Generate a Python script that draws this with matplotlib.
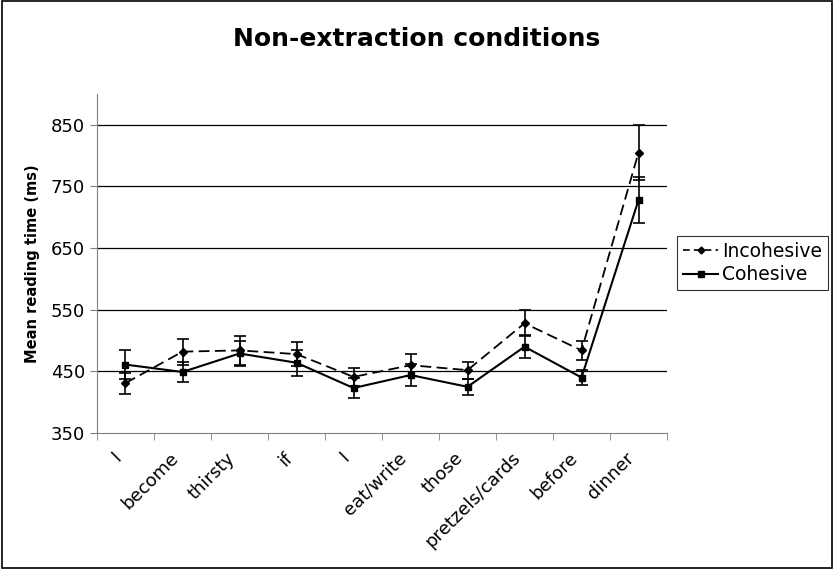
import numpy as np
import matplotlib
matplotlib.use('Agg')
import matplotlib.pyplot as plt
import matplotlib.transforms as mtransforms
from matplotlib.patches import Rectangle
from matplotlib.lines import Line2D

words      = ['I', 'become', 'thirsty', 'if', 'I', 'eat/write', 'those', 'pretzels/cards', 'before', 'dinner']
incohesive = [431, 482, 484, 478, 441, 460, 452, 528, 484, 805]
inc_err    = [17, 21, 23, 19, 14, 18, 14, 21, 16, 45]
cohesive   = [461, 449, 479, 464, 423, 444, 425, 490, 440, 728]
coh_err    = [23, 17, 20, 21, 17, 18, 13, 19, 12, 38]

plt.rcParams['font.family'] = 'DejaVu Sans'

fig = plt.figure(figsize=(8.34, 5.69), dpi=100)
ax = fig.add_axes([0.1163, 0.239, 0.6835, 0.5958])

x = np.arange(len(words))
inc_ls = (0, (6, 3))
ax.errorbar(x, incohesive, yerr=inc_err, color='black', linestyle=inc_ls, lw=1.3,
            marker='D', markersize=4, capsize=4, elinewidth=1.2, capthick=1.2)
ax.errorbar(x, cohesive, yerr=coh_err, color='black', linestyle='-', lw=1.5,
            marker='s', markersize=5, capsize=4, elinewidth=1.2, capthick=1.2)

ax.set_xlim(-0.5, len(words) - 0.5)
ax.set_ylim(350, 900)
ax.set_yticks([350, 450, 550, 650, 750, 850])
for yy in [450, 550, 650, 750, 850]:
    ax.axhline(yy, color='black', lw=0.9, zorder=0)

ax.set_xticks(x)
ax.set_xticklabels(words, rotation=45, ha='right', va='center', rotation_mode='anchor', fontsize=13)
ax.set_xticks(np.arange(-0.5, len(words)), minor=True)
ax.tick_params(axis='x', which='major', length=0, pad=16)
ax.tick_params(axis='x', which='minor', length=5, color='gray', direction='out')
ax.tick_params(axis='y', length=5, color='gray', direction='out', labelsize=13)
# nudge the slanted labels a little to the left
shift = mtransforms.ScaledTranslation(-7 / 100, 0, fig.dpi_scale_trans)
for lab in ax.get_xticklabels():
    lab.set_transform(lab.get_transform() + shift)

for s in ['top', 'right']:
    ax.spines[s].set_visible(False)
ax.spines['left'].set_color('gray')
ax.spines['bottom'].set_color('gray')

ax.set_ylabel('Mean reading time (ms)', fontsize=10.5, fontweight='bold', labelpad=8)
fig.text(0.5, 0.932, 'Non-extraction conditions', ha='center', va='center', fontsize=18, fontweight='bold')

handles = [Line2D([], [], color='black', linestyle=(0, (4, 2.5)), lw=1.2, marker='D', markersize=3.5),
           Line2D([], [], color='black', linestyle='-', lw=1.5, marker='s', markersize=5)]
leg = fig.legend(handles, ['Incohesive', 'Cohesive'], loc='center left', bbox_to_anchor=(0.812, 0.538),
                 fontsize=13.5, frameon=True, fancybox=False, edgecolor='black',
                 handlelength=1.9, handletextpad=0.2, borderpad=0.3, borderaxespad=0, labelspacing=0.25)
leg.get_frame().set_linewidth(0.8)

fig.patches.append(Rectangle((0.002, 0.002), 0.996, 0.996, transform=fig.transFigure,
                             fill=False, edgecolor='black', lw=1.2))

fig.savefig('out.png', dpi=100)
